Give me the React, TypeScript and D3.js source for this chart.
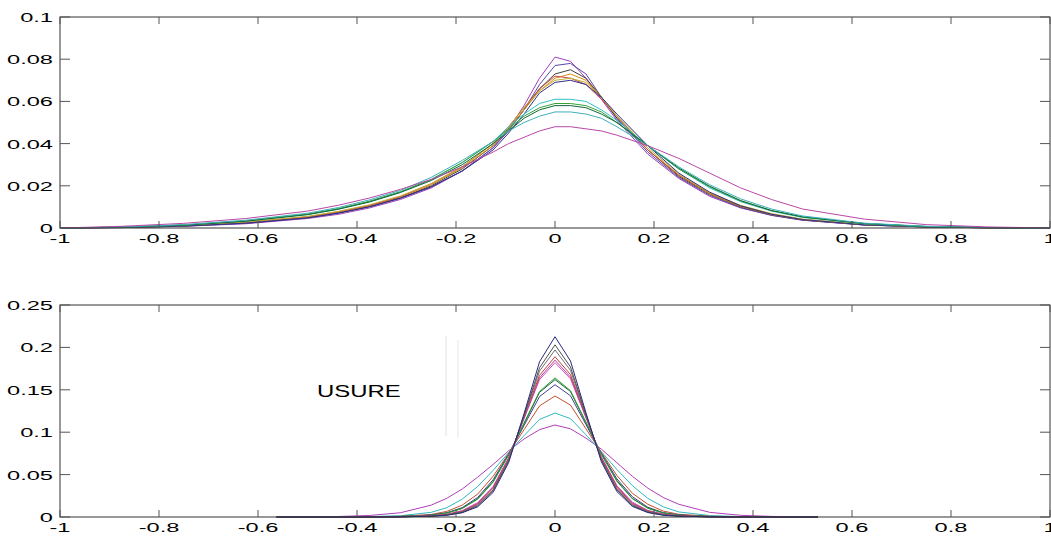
import React from "react";
import * as d3 from "d3";

// ---------- DATA ----------
const xTicks = [-1, -0.8, -0.6, -0.4, -0.2, 0, 0.2, 0.4, 0.6, 0.8, 1];
const xTickLabels = ["-1", "-0.8", "-0.6", "-0.4", "-0.2", "0", "0.2", "0.4", "0.6", "0.8", "1"];
const topYTicks = [0, 0.02, 0.04, 0.06, 0.08, 0.1];
const topYLabels = ["0", "0.02", "0.04", "0.06", "0.08", "0.1"];
const botYTicks = [0, 0.05, 0.1, 0.15, 0.2, 0.25];
const botYLabels = ["0", "0.05", "0.1", "0.15", "0.2", "0.25"];
const annotation = "USURE";

const topX = [-1, -0.875, -0.75, -0.625, -0.5, -0.4375, -0.375, -0.3125, -0.25, -0.1875, -0.125, -0.09375, -0.0625, -0.03125, 0, 0.03125, 0.0625, 0.09375, 0.125, 0.1875, 0.25, 0.3125, 0.375, 0.4375, 0.5, 0.625, 0.75, 0.875, 1];

const topColors = ["#a040c0", "#5a48a8", "#404040", "#e08a10", "#c84848", "#c0b030", "#303088", "#30c0c8", "#38a038", "#106838", "#40b0b8", "#b848a8"];
const top1 = [0, 0.0002, 0.0008, 0.002, 0.0045, 0.0065, 0.0095, 0.0135, 0.019, 0.027, 0.038, 0.047, 0.058, 0.071, 0.081, 0.079, 0.071, 0.061, 0.051, 0.035, 0.0235, 0.015, 0.0095, 0.006, 0.0037, 0.0014, 0.0005, 0.0001, 0];
const top2 = [0, 0.0002, 0.0009, 0.0022, 0.0048, 0.007, 0.01, 0.014, 0.0195, 0.027, 0.038, 0.046, 0.056, 0.068, 0.077, 0.078, 0.073, 0.062, 0.052, 0.036, 0.024, 0.0155, 0.0097, 0.006, 0.0037, 0.0014, 0.0005, 0.0001, 0];
const top3 = [0, 0.0003, 0.001, 0.0025, 0.005, 0.0072, 0.0102, 0.0143, 0.02, 0.028, 0.039, 0.047, 0.056, 0.066, 0.073, 0.075, 0.071, 0.062, 0.052, 0.037, 0.0245, 0.016, 0.01, 0.0063, 0.0039, 0.0015, 0.0005, 0.0001, 0];
const top4 = [0, 0.0003, 0.001, 0.0026, 0.0052, 0.0075, 0.0105, 0.0146, 0.0205, 0.0285, 0.039, 0.047, 0.056, 0.065, 0.071, 0.073, 0.07, 0.062, 0.053, 0.037, 0.025, 0.0162, 0.0102, 0.0064, 0.004, 0.0016, 0.0005, 0.0001, 0];
const top5 = [0, 0.0003, 0.0011, 0.0027, 0.0053, 0.0077, 0.0107, 0.0149, 0.021, 0.029, 0.04, 0.048, 0.057, 0.066, 0.072, 0.071, 0.068, 0.061, 0.053, 0.037, 0.025, 0.0165, 0.0105, 0.0066, 0.0041, 0.0016, 0.0006, 0.0001, 0];
const top6 = [0, 0.0003, 0.0011, 0.0028, 0.0055, 0.0079, 0.011, 0.0152, 0.021, 0.029, 0.04, 0.048, 0.057, 0.065, 0.07, 0.071, 0.069, 0.062, 0.053, 0.038, 0.0255, 0.0167, 0.0107, 0.0068, 0.0042, 0.0017, 0.0006, 0.0001, 0];
const top7 = [0, 0.0002, 0.0009, 0.0023, 0.0048, 0.0071, 0.0101, 0.0142, 0.0195, 0.027, 0.037, 0.045, 0.054, 0.064, 0.069, 0.07, 0.068, 0.062, 0.054, 0.039, 0.026, 0.017, 0.0105, 0.0065, 0.004, 0.0015, 0.0005, 0.0001, 0];
const top8 = [0, 0.0004, 0.0014, 0.0033, 0.0065, 0.009, 0.0125, 0.017, 0.023, 0.031, 0.041, 0.048, 0.054, 0.059, 0.061, 0.061, 0.06, 0.056, 0.051, 0.039, 0.028, 0.019, 0.0125, 0.008, 0.005, 0.002, 0.0007, 0.0002, 0];
const top9 = [0, 0.0004, 0.0014, 0.0034, 0.0066, 0.0092, 0.0127, 0.0172, 0.023, 0.031, 0.041, 0.047, 0.053, 0.057, 0.059, 0.059, 0.058, 0.055, 0.05, 0.039, 0.028, 0.0195, 0.0128, 0.0082, 0.0052, 0.0021, 0.0007, 0.0002, 0];
const top10 = [0, 0.0004, 0.0013, 0.0032, 0.0063, 0.0089, 0.0123, 0.0168, 0.0225, 0.03, 0.04, 0.046, 0.052, 0.056, 0.058, 0.058, 0.057, 0.054, 0.05, 0.039, 0.0285, 0.0198, 0.013, 0.0083, 0.0053, 0.0021, 0.0007, 0.0002, 0];
const top11 = [0, 0.0005, 0.0016, 0.0037, 0.007, 0.0097, 0.0133, 0.0178, 0.024, 0.032, 0.041, 0.046, 0.05, 0.053, 0.055, 0.055, 0.054, 0.052, 0.048, 0.039, 0.029, 0.0205, 0.0138, 0.009, 0.0057, 0.0023, 0.0008, 0.0002, 0];
const top12 = [0, 0.0008, 0.0022, 0.0045, 0.008, 0.0108, 0.0142, 0.0183, 0.023, 0.029, 0.036, 0.04, 0.043, 0.046, 0.048, 0.048, 0.047, 0.046, 0.044, 0.039, 0.033, 0.026, 0.019, 0.0135, 0.009, 0.0042, 0.0016, 0.0005, 0];
const topSeries = [top1, top2, top3, top4, top5, top6, top7, top8, top9, top10, top11, top12];

const botX = [-0.5625, -0.5, -0.4375, -0.375, -0.3125, -0.25, -0.21875, -0.1875, -0.15625, -0.125, -0.09375, -0.0625, -0.03125, 0, 0.03125, 0.0625, 0.09375, 0.125, 0.15625, 0.1875, 0.21875, 0.25, 0.3125, 0.375, 0.4375, 0.5, 0.53125];

const botColors = ["#b040b8", "#30b8c0", "#c05030", "#404090", "#106040", "#30a030", "#d050c0", "#c040a0", "#c04040", "#707070", "#505050", "#2a2a80"];
const bot1 = [0, 0.0002, 0.0006, 0.0018, 0.005, 0.014, 0.022, 0.033, 0.047, 0.062, 0.078, 0.092, 0.103, 0.1085, 0.104, 0.093, 0.08, 0.064, 0.048, 0.034, 0.023, 0.015, 0.0055, 0.002, 0.0007, 0.0002, 0];
const bot2 = [0, 0, 0.0002, 0.0005, 0.0015, 0.0055, 0.011, 0.021, 0.036, 0.055, 0.076, 0.096, 0.115, 0.1226, 0.116, 0.097, 0.077, 0.056, 0.037, 0.022, 0.012, 0.006, 0.0017, 0.0005, 0.0002, 0, 0];
const bot3 = [0, 0, 0, 0.0002, 0.0008, 0.003, 0.0066, 0.014, 0.027, 0.048, 0.075, 0.103, 0.131, 0.1427, 0.132, 0.104, 0.076, 0.049, 0.028, 0.015, 0.007, 0.0032, 0.0009, 0.0002, 0, 0, 0];
const bot4 = [0, 0, 0, 0.0001, 0.0005, 0.0023, 0.005, 0.011, 0.023, 0.044, 0.074, 0.108, 0.142, 0.156, 0.143, 0.109, 0.075, 0.045, 0.024, 0.0115, 0.0052, 0.0024, 0.0006, 0.0001, 0, 0, 0];
const bot5 = [0, 0, 0, 0.0001, 0.0005, 0.0021, 0.0047, 0.0103, 0.0215, 0.042, 0.073, 0.11, 0.147, 0.162, 0.148, 0.111, 0.074, 0.043, 0.022, 0.0106, 0.0048, 0.0022, 0.0005, 0.0001, 0, 0, 0];
const bot6 = [0, 0, 0, 0.0001, 0.0005, 0.002, 0.0045, 0.01, 0.021, 0.041, 0.073, 0.111, 0.148, 0.164, 0.149, 0.112, 0.074, 0.042, 0.0215, 0.0103, 0.0046, 0.0021, 0.0005, 0.0001, 0, 0, 0];
const bot7 = [0, 0, 0, 0, 0.0003, 0.0014, 0.0032, 0.0075, 0.017, 0.036, 0.07, 0.116, 0.162, 0.182, 0.163, 0.117, 0.071, 0.037, 0.0175, 0.0078, 0.0034, 0.0015, 0.0003, 0, 0, 0, 0];
const bot8 = [0, 0, 0, 0, 0.0003, 0.0013, 0.003, 0.007, 0.016, 0.035, 0.069, 0.117, 0.164, 0.185, 0.165, 0.118, 0.07, 0.036, 0.0165, 0.0073, 0.0031, 0.0014, 0.0003, 0, 0, 0, 0];
const bot9 = [0, 0, 0, 0, 0.0003, 0.0012, 0.0028, 0.0065, 0.015, 0.034, 0.068, 0.118, 0.167, 0.189, 0.168, 0.119, 0.069, 0.035, 0.0155, 0.0068, 0.0029, 0.0013, 0.0003, 0, 0, 0, 0];
const bot10 = [0, 0, 0, 0, 0.0002, 0.001, 0.0025, 0.006, 0.014, 0.032, 0.067, 0.119, 0.172, 0.197, 0.173, 0.12, 0.068, 0.033, 0.0145, 0.0062, 0.0026, 0.0011, 0.0002, 0, 0, 0, 0];
const bot11 = [0, 0, 0, 0, 0.0002, 0.001, 0.0022, 0.0055, 0.013, 0.031, 0.066, 0.12, 0.176, 0.203, 0.177, 0.121, 0.067, 0.032, 0.0135, 0.0057, 0.0023, 0.001, 0.0002, 0, 0, 0, 0];
const bot12 = [0, 0, 0, 0, 0.0002, 0.001, 0.002, 0.005, 0.012, 0.029, 0.064, 0.122, 0.183, 0.2126, 0.184, 0.123, 0.065, 0.03, 0.0125, 0.0052, 0.0021, 0.001, 0.0002, 0, 0, 0, 0];
const botSeries = [bot1, bot2, bot3, bot4, bot5, bot6, bot7, bot8, bot9, bot10, bot11, bot12];

// ---------- LAYOUT ----------
const W = 1051;
const H = 538;
const LEFT = 60;
const RIGHT = 1050;
const FONT = "'Liberation Sans', Arial, Helvetica, sans-serif";
const FS = 13.5;
const SX = 1.75;

type PanelProps = {
  top: number;
  bottom: number;
  yMax: number;
  yTicks: number[];
  yLabels: string[];
  xs: number[];
  series: number[][];
  colors: string[];
};

function Panel({ top, bottom, yMax, yTicks, yLabels, xs, series, colors }: PanelProps) {
  const x = d3.scaleLinear().domain([-1, 1]).range([LEFT, RIGHT]);
  const y = d3.scaleLinear().domain([0, yMax]).range([bottom, top]);
  const line = d3
    .line<number>()
    .x((_, i) => x(xs[i]))
    .y((v) => y(v));
  const axisColor = "#333";
  const tickColor = "#555";
  return (
    <g>
      {series.map((s, i) => (
        <path key={i} d={line(s) || ""} fill="none" stroke={colors[i]} strokeWidth={1} />
      ))}
      <rect x={LEFT} y={top} width={RIGHT - LEFT} height={bottom - top} fill="none" stroke={axisColor} strokeWidth={1} />
      {xTicks.map((t, i) => (
        <g key={"xt" + i}>
          <line x1={x(t)} x2={x(t)} y1={bottom} y2={bottom - 7} stroke={tickColor} />
          <line x1={x(t)} x2={x(t)} y1={top} y2={top + 7} stroke={tickColor} />
          <text
            transform={`translate(${x(t)},${bottom + 14.5}) scale(${SX},1)`}
            textAnchor="middle"
            fontFamily={FONT}
            fontSize={FS}
            fill="#000"
          >
            {xTickLabels[i]}
          </text>
        </g>
      ))}
      {yTicks.map((t, i) => (
        <g key={"yt" + i}>
          <line x1={LEFT} x2={LEFT + 10} y1={y(t)} y2={y(t)} stroke={tickColor} />
          <line x1={RIGHT} x2={RIGHT - 10} y1={y(t)} y2={y(t)} stroke={tickColor} />
          <text
            transform={`translate(${LEFT - 7},${y(t) + 5}) scale(${SX},1)`}
            textAnchor="end"
            fontFamily={FONT}
            fontSize={FS}
            fill="#000"
          >
            {yLabels[i]}
          </text>
        </g>
      ))}
    </g>
  );
}

export default function App() {
  return (
    <svg
      width={W}
      height={H}
      style={{ position: "absolute", left: 0, top: 0, background: "#fff" }}
    >
      <rect x={0} y={0} width={W} height={H} fill="#fff" />
      <Panel top={17} bottom={228} yMax={0.1} yTicks={topYTicks} yLabels={topYLabels} xs={topX} series={topSeries} colors={topColors} />
      <Panel top={305} bottom={517} yMax={0.25} yTicks={botYTicks} yLabels={botYLabels} xs={botX} series={botSeries} colors={botColors} />
      <line x1={446} x2={446} y1={336} y2={436} stroke="#ececec" strokeWidth={1.5} />
      <line x1={458} x2={458} y1={340} y2={438} stroke="#efefef" strokeWidth={1.5} />
      <text
        transform={`translate(317,397) scale(1.45,1)`}
        fontFamily={FONT}
        fontSize={16.5}
        fill="#000"
      >
        {annotation}
      </text>
    </svg>
  );
}
